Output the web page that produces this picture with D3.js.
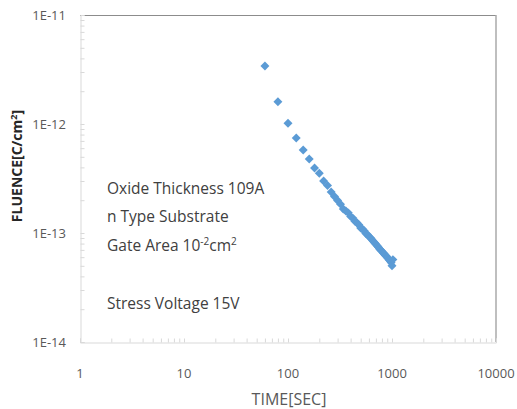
<!DOCTYPE html>
<html>
<head>
<meta charset="utf-8">
<script src="https://cdn.jsdelivr.net/npm/d3@7"></script>
<style>
  body { margin: 0; background: #fff; }
  svg { display: block; font-family: "Open Sans", "Noto Sans", sans-serif; }
  .tick-label { fill: #595959; font-size: 13px; }
  .note { fill: #404040; font-size: 15.5px; }
</style>
</head>
<body>
<div id="chart"></div>
<script>
// stress time in seconds
const times = [60, 80, 100, 120, 140, 160, 180, 200, 220, 240, 260, 280, 300, 320, 340,
  360, 380, 400, 420, 440, 460, 480, 500, 520, 540, 560, 580, 600, 620, 640, 660,
  680, 700, 720, 740, 760, 780, 800, 820, 840, 860, 880, 900, 920, 940, 960, 980, 1000, 1020];

// fluence in C/cm2
const fluence = [3.40e-12, 1.60e-12, 1.015e-12, 7.44e-13, 5.77e-13, 4.77e-13, 3.95e-13, 3.53e-13,
  3.00e-13, 2.73e-13, 2.38e-13, 2.16e-13, 1.99e-13, 1.84e-13, 1.66e-13,
  1.59e-13, 1.53e-13, 1.42e-13, 1.37e-13, 1.28e-13, 1.24e-13, 1.19e-13, 1.11e-13, 1.09e-13,
  1.05e-13, 9.90e-14, 9.70e-14, 9.30e-14, 9.05e-14, 8.70e-14, 8.40e-14,
  8.15e-14, 7.90e-14, 7.65e-14, 7.40e-14, 7.15e-14, 6.95e-14, 6.80e-14, 6.60e-14, 6.45e-14,
  6.25e-14, 6.15e-14, 5.95e-14, 5.85e-14, 5.65e-14, 5.55e-14, 5.35e-14, 5.00e-14, 5.70e-14];

const xTicks = [1, 10, 100, 1000, 10000];
const xTickLabels = ["1", "10", "100", "1000", "10000"];
const yTicks = [1e-14, 1e-13, 1e-12, 1e-11];
const yTickLabels = ["1E-14", "1E-13", "1E-12", "1E-11"];

const width = 517, height = 409;
const m = { top: 15, right: 21, bottom: 67, left: 80 };

const svg = d3.select('#chart').append('svg')
  .attr('width', width)
  .attr('height', height);

const xScale = d3.scaleLog()
  .domain([xTicks[0], xTicks[xTicks.length - 1]])
  .range([m.left, width - m.right]);

const yScale = d3.scaleLog()
  .domain([yTicks[0], yTicks[yTicks.length - 1]])
  .range([height - m.bottom, m.top]);

const x0 = xScale.range()[0], x1 = xScale.range()[1];
const y0 = yScale.range()[0], y1 = yScale.range()[1];

// plot frame: top and right a bit darker
svg.append('line').attr('x1', x0).attr('x2', x1).attr('y1', y1 + 0.5).attr('y2', y1 + 0.5)
  .attr('stroke', '#8c8c8c').attr('stroke-width', 1);
svg.append('line').attr('x1', x1).attr('x2', x1).attr('y1', y1).attr('y2', y0)
  .attr('stroke', '#aaaaaa').attr('stroke-width', 1.5);

// minor + major ticks, drawn inward
const xAxis = d3.axisTop(xScale)
  .tickValues(d3.range(0, 4).flatMap(e => d3.range(1, 10).map(k => k * Math.pow(10, e))).concat([10000]))
  .tickSize(4)
  .tickFormat('');
svg.append('g')
  .attr('transform', `translate(0,${y0 + 0.5})`)
  .call(xAxis)
  .call(g => g.select('.domain').attr('stroke', '#d9d9d9'))
  .call(g => g.selectAll('.tick line').attr('stroke', '#d9d9d9'));

const yAxis = d3.axisRight(yScale)
  .tickValues(d3.range(-14, -11).flatMap(e => d3.range(1, 10).map(k => k * Math.pow(10, e))).concat([1e-11]))
  .tickSize(4)
  .tickFormat('');
svg.append('g')
  .attr('transform', `translate(${x0 + 0.5},0)`)
  .call(yAxis)
  .call(g => g.select('.domain').attr('stroke', '#d9d9d9'))
  .call(g => g.selectAll('.tick line').attr('stroke', '#d9d9d9'));

// tick labels
svg.selectAll('.xlab')
  .data(xTicks)
  .enter().append('text')
  .attr('class', 'tick-label')
  .attr('x', d => xScale(d))
  .attr('y', 378)
  .attr('text-anchor', 'middle')
  .text((d, i) => xTickLabels[i]);

svg.selectAll('.ylab')
  .data(yTicks)
  .enter().append('text')
  .attr('class', 'tick-label')
  .attr('x', 66)
  .attr('y', d => yScale(d))
  .attr('dy', '0.35em')
  .attr('text-anchor', 'end')
  .text((d, i) => yTickLabels[i]);

// axis titles
svg.append('text')
  .attr('x', 289)
  .attr('y', 405)
  .attr('text-anchor', 'middle')
  .attr('fill', '#595959')
  .style('font-size', '16px')
  .text('TIME[SEC]');

const yt = svg.append('text')
  .attr('transform', 'translate(22,166) rotate(-90)')
  .attr('text-anchor', 'middle')
  .attr('fill', '#262626')
  .style('font-size', '14px')
  .style('font-weight', 'bold');
yt.append('tspan').text('FLUENCE[C/cm');
yt.append('tspan').attr('dy', -5).style('font-size', '9px').text('2');
yt.append('tspan').attr('dy', 5).text(']');

// annotation
const notes = svg.append('g').attr('class', 'note');
notes.append('text').attr('x', 107).attr('y', 194).text('Oxide Thickness 109A');
notes.append('text').attr('x', 107).attr('y', 222).text('n Type Substrate');
const area = notes.append('text').attr('x', 107).attr('y', 251);
area.append('tspan').text('Gate Area 10');
area.append('tspan').attr('dy', -6).style('font-size', '10px').text('-2');
area.append('tspan').attr('dy', 6).text('cm');
area.append('tspan').attr('dy', -6).style('font-size', '10px').text('2');
notes.append('text').attr('x', 107).attr('y', 309).text('Stress Voltage 15V');

// data points: rotated squares
const marker = d3.symbol().type(d3.symbolSquare).size(40);
svg.selectAll('.pt')
  .data(times.map((t, i) => [t, fluence[i]]))
  .enter().append('path')
  .attr('class', 'pt')
  .attr('d', marker)
  .attr('transform', d => `translate(${xScale(d[0])},${yScale(d[1])}) rotate(45)`)
  .attr('fill', '#5b9bd5');
</script>
</body>
</html>
